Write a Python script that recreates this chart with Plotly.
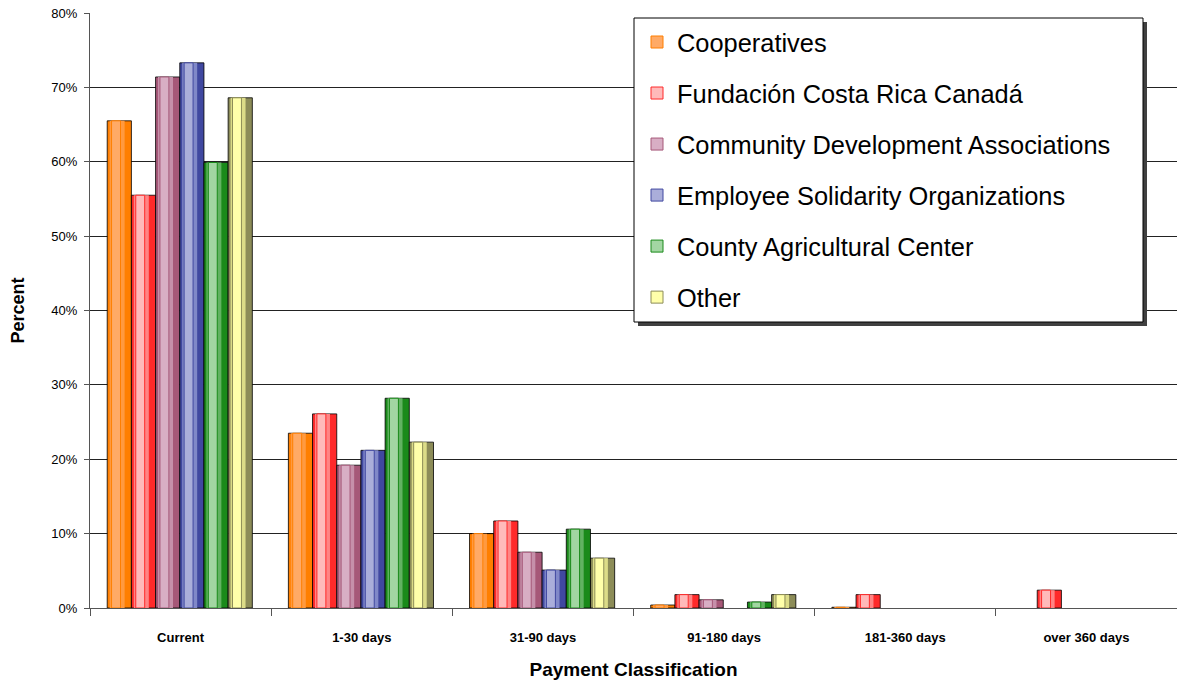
import plotly.graph_objects as go

categories = ["Current", "1-30 days", "31-90 days", "91-180 days", "181-360 days", "over 360 days"]
series_names = [
    "Cooperatives",
    "Fundación Costa Rica Canadá",
    "Community Development Associations",
    "Employee Solidarity Organizations",
    "County Agricultural Center",
    "Other",
]
cooperatives = [65.5, 23.5, 10.0, 0.4, 0.1, 0.0]
fundacion = [55.5, 26.1, 11.7, 1.8, 1.8, 2.4]
community = [71.4, 19.2, 7.5, 1.1, 0.0, 0.0]
employee = [73.3, 21.2, 5.1, 0.0, 0.0, 0.0]
county = [59.9, 28.2, 10.6, 0.8, 0.0, 0.0]
other = [68.6, 22.3, 6.7, 1.8, 0.0, 0.0]
series_values = [cooperatives, fundacion, community, employee, county, other]

# (edge, mid, highlight) shades for a cylinder-like shading of each bar
shades = [
    ("#FF7F00", "#FF9A40", "#FFAA66"),
    ("#FF2A2A", "#FF8484", "#FFBABA"),
    ("#A65878", "#C690AA", "#D8AEC4"),
    ("#4048A0", "#8088C8", "#AAAEDA"),
    ("#1A8A1A", "#62B262", "#A2D6A2"),
    ("#8C8C58", "#DCDC88", "#FFFFAA"),
]

FONT = "Liberation Sans, Arial, sans-serif"
x = list(range(len(categories)))
bar_w = 0.1335
group_start = -0.405

fig = go.Figure()
for i, (name, vals, (edge, mid, light)) in enumerate(zip(series_names, series_values, shades)):
    left = group_start + i * bar_w
    # no outline on empty bars
    outline = [1 if v > 0 else 0 for v in vals]
    # full bar with outline
    fig.add_trace(go.Bar(
        x=x, y=vals, offset=left, width=bar_w,
        marker=dict(color=edge, line=dict(color="rgba(0,0,0,0.8)", width=outline)),
        showlegend=False, hoverinfo="skip", legendgroup=name,
    ))
    # middle shading stripe
    fig.add_trace(go.Bar(
        x=x, y=vals, offset=left + 0.10 * bar_w, width=0.62 * bar_w,
        marker=dict(color=mid, line=dict(width=0)),
        showlegend=False, hoverinfo="skip", legendgroup=name,
    ))
    # highlight stripe, which also carries the legend entry
    fig.add_trace(go.Bar(
        x=x, y=vals, offset=left + 0.18 * bar_w, width=0.37 * bar_w,
        name=name, legendgroup=name,
        marker=dict(color=light, line=dict(color=edge, width=outline)),
        hoverinfo="name+y",
    ))

# plot area spans x 90..1177 px, y 13..608 px
def px_x(p):
    return (p - 90) / 1087

def px_y(p):
    return (608 - p) / 595

# legend frame with drop shadow
fig.add_shape(type="rect", xref="paper", yref="paper",
              x0=px_x(638), x1=px_x(1147), y0=px_y(326), y1=px_y(22),
              fillcolor="#404040", line=dict(width=0), layer="above")
fig.add_shape(type="rect", xref="paper", yref="paper",
              x0=px_x(634), x1=px_x(1143), y0=px_y(322), y1=px_y(18),
              fillcolor="white", line=dict(color="black", width=1), layer="above")

fig.update_layout(
    width=1177, height=686,
    margin=dict(l=90, r=0, t=13, b=78),
    paper_bgcolor="white", plot_bgcolor="white",
    barmode="overlay",
    font=dict(family=FONT, color="black"),
    legend=dict(
        x=px_x(637), y=px_y(19), xanchor="left", yanchor="top",
        bgcolor="rgba(0,0,0,0)", borderwidth=0,
        font=dict(size=25.4, family=FONT), tracegroupgap=15,
    ),
    xaxis=dict(
        range=[-0.5, 5.5], tickmode="array", tickvals=x, ticktext=categories,
        tickfont=dict(size=13, family=FONT, weight="bold"),
        ticks="", ticklabelstandoff=17,
        showline=True, linecolor="#555", linewidth=1,
        minor=dict(tickmode="array", tickvals=[v - 0.5 for v in range(len(categories) + 1)],
                   ticks="outside", ticklen=7, tickcolor="#555", tickwidth=1),
        title=dict(text="Payment Classification", font=dict(size=19, family=FONT, weight="bold"),
                   standoff=19),
    ),
    yaxis=dict(
        range=[0, 80], dtick=10, ticksuffix="%",
        tickfont=dict(size=13, family=FONT),
        ticks="outside", ticklen=5, tickcolor="#555", ticklabelstandoff=4,
        showgrid=True, gridcolor="#222", gridwidth=1, zeroline=False,
        showline=True, linecolor="#555", linewidth=1,
        title=dict(text="Percent", font=dict(size=18, family=FONT, weight="bold"), standoff=22),
    ),
)

fig.write_html("out.html")
